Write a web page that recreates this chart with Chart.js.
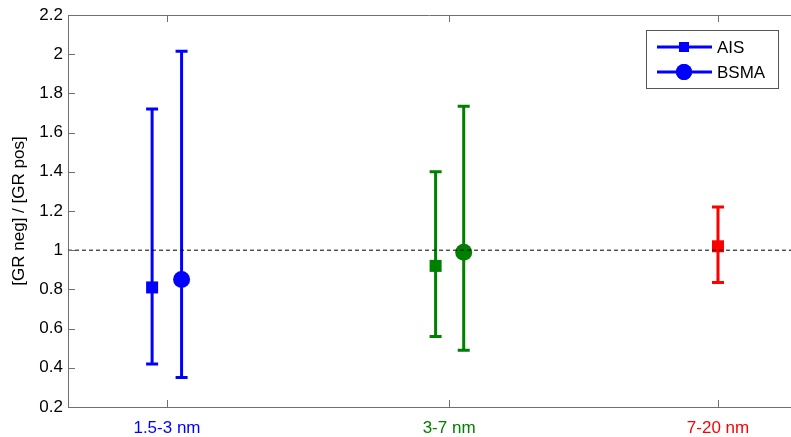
<!DOCTYPE html>
<html>
<head>
<meta charset="utf-8">
<script src="https://cdn.jsdelivr.net/npm/chart.js@4/dist/chart.umd.min.js"></script>
<style>
  html, body { margin: 0; padding: 0; background: #fff; }
  #wrap { width: 791px; height: 437px; position: relative; }
</style>
</head>
<body>
<div id="wrap"><canvas id="c"></canvas></div>
<script>
// size classes and where they sit on the x axis
const categories = ['1.5-3 nm', '3-7 nm', '7-20 nm'];
const catPos = [1, 2.024, 3];
const catColors = ['#0000ff', '#008000', '#ff0000'];

// AIS: mean, lower and upper ends of the error bars
const aisX = [0.946, 1.975, 3.0];
const aisMean = [0.81, 0.92, 1.02];
const aisLow = [0.42, 0.56, 0.835];
const aisHigh = [1.72, 1.40, 1.22];

// BSMA (no value for 7-20 nm)
const bsmaX = [1.053, 2.077];
const bsmaMean = [0.85, 0.99];
const bsmaLow = [0.35, 0.49];
const bsmaHigh = [2.015, 1.735];

const yTicks = [0.2, 0.4, 0.6, 0.8, 1, 1.2, 1.4, 1.6, 1.8, 2, 2.2];
const xMin = 0.6407, xMax = 3.265;
const refLine = 1;

const FONT = "'Liberation Sans', Arial, sans-serif";
const AXIS = '#707070';

function pts(xs, ys) {
  return xs.map((x, i) => ({ x: x, y: ys[i] }));
}

// error bars + caps from the data arrays
const errorBars = {
  id: 'errorBars',
  beforeDatasetsDraw(chart) {
    const { ctx, scales: { x, y } } = chart;
    const groups = [
      { xs: aisX, lo: aisLow, hi: aisHigh },
      { xs: bsmaX, lo: bsmaLow, hi: bsmaHigh },
    ];
    ctx.save();
    ctx.lineWidth = 3;
    groups.forEach(g => {
      g.xs.forEach((xv, i) => {
        const px = x.getPixelForValue(xv);
        const p1 = y.getPixelForValue(g.lo[i]);
        const p2 = y.getPixelForValue(g.hi[i]);
        ctx.strokeStyle = catColors[i];
        ctx.beginPath();
        ctx.moveTo(px, p1); ctx.lineTo(px, p2);
        ctx.moveTo(px - 6, p1); ctx.lineTo(px + 6, p1);
        ctx.moveTo(px - 6, p2); ctx.lineTo(px + 6, p2);
        ctx.stroke();
      });
    });
    ctx.restore();
  }
};

// matlab style frame: top line and inward ticks
const frame = {
  id: 'frame',
  afterDraw(chart) {
    const { ctx, chartArea: a, scales: { x, y } } = chart;
    ctx.save();
    ctx.strokeStyle = AXIS;
    ctx.lineWidth = 1;
    ctx.beginPath();
    ctx.moveTo(a.left, a.top + 0.5); ctx.lineTo(a.right, a.top + 0.5);
    yTicks.forEach(v => {
      const py = Math.round(y.getPixelForValue(v)) + 0.5;
      ctx.moveTo(a.left, py); ctx.lineTo(a.left + 7, py);
    });
    catPos.forEach(v => {
      const px = Math.round(x.getPixelForValue(v)) + 0.5;
      ctx.moveTo(px, a.bottom); ctx.lineTo(px, a.bottom - 7);
      ctx.moveTo(px, a.top); ctx.lineTo(px, a.top + 7);
    });
    ctx.stroke();

    // legend box
    const lx = 646, ly = 30, lw = 132, lh = 58;
    ctx.fillStyle = '#fff';
    ctx.fillRect(lx, ly, lw, lh);
    ctx.strokeStyle = '#555';
    ctx.strokeRect(lx + 0.5, ly + 0.5, lw, lh);
    const items = [
      { label: 'AIS', style: 'rect', yy: 47 },
      { label: 'BSMA', style: 'circle', yy: 72 },
    ];
    items.forEach(it => {
      ctx.strokeStyle = '#0000ff';
      ctx.lineWidth = 3;
      ctx.beginPath();
      ctx.moveTo(657, it.yy); ctx.lineTo(712, it.yy);
      ctx.stroke();
      ctx.fillStyle = '#0000ff';
      Chart.helpers.drawPoint(ctx, { pointStyle: it.style, radius: it.style === 'rect' ? 7 : 8, borderWidth: 0 }, 684, it.yy);
      ctx.fill();
      ctx.fillStyle = '#000';
      ctx.font = '17px ' + FONT;
      ctx.textBaseline = 'middle';
      ctx.fillText(it.label, 717, it.yy + 1);
    });
    ctx.restore();
  }
};

new Chart(document.getElementById('c'), {
  type: 'scatter',
  data: {
    datasets: [
      {
        label: 'ref',
        type: 'line',
        data: [{ x: xMin, y: refLine }, { x: xMax, y: refLine }],
        borderColor: '#000',
        borderWidth: 1,
        borderDash: [4, 3],
        pointRadius: 0,
      },
      {
        label: 'AIS',
        data: pts(aisX, aisMean),
        pointStyle: 'rect',
        pointRadius: 8.5,
        backgroundColor: catColors,
        borderColor: catColors,
        borderWidth: 0,
      },
      {
        label: 'BSMA',
        data: pts(bsmaX, bsmaMean),
        pointStyle: 'circle',
        pointRadius: 8.5,
        backgroundColor: catColors,
        borderColor: catColors,
        borderWidth: 0,
      },
    ]
  },
  options: {
    responsive: true,
    maintainAspectRatio: false,
    animation: false,
    layout: { autoPadding: false, padding: { top: 15, right: 0, left: 0, bottom: 0 } },
    plugins: { legend: { display: false }, tooltip: { enabled: false } },
    scales: {
      x: {
        type: 'linear',
        min: xMin,
        max: xMax,
        afterBuildTicks: s => { s.ticks = catPos.map(v => ({ value: v })); },
        afterFit: s => { s.height = 30; s.paddingLeft = 0; s.paddingRight = 0; },
        grid: { display: true, drawOnChartArea: false, drawTicks: false },
        border: { color: AXIS },
        ticks: {
          padding: 11,
          font: { family: FONT, size: 17 },
          color: c => catColors[c.index],
          callback: (v, i) => categories[i],
        },
      },
      y: {
        min: 0.2,
        max: 2.2,
        afterBuildTicks: s => { s.ticks = yTicks.map(v => ({ value: v })); },
        afterFit: s => { s.width = 68; s.paddingTop = 0; s.paddingBottom = 0; },
        grid: { display: true, drawOnChartArea: false, drawTicks: false },
        border: { color: AXIS },
        title: {
          display: true,
          text: '[GR neg] / [GR pos]',
          font: { family: FONT, size: 17 },
          color: '#000',
          padding: { top: 9, bottom: 0 },
        },
        ticks: {
          padding: 5,
          font: { family: FONT, size: 17 },
          color: '#000',
          callback: v => String(Math.round(v * 10) / 10),
        },
      },
    },
  },
  plugins: [errorBars, frame],
});
</script>
</body>
</html>
